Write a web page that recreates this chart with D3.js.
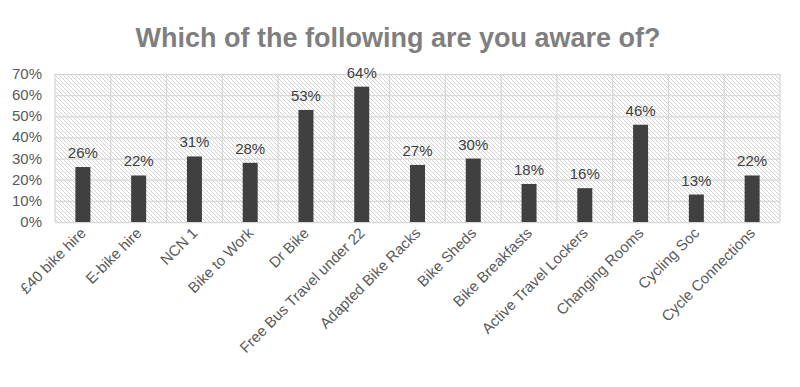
<!DOCTYPE html>
<html>
<head>
<meta charset="utf-8">
<script src="https://cdn.jsdelivr.net/npm/d3@7"></script>
<style>
	body { margin: 0; background: #fff; }
	text { font-family: "Liberation Sans", Arial, sans-serif; }
</style>
</head>
<body>
<div id="chart"></div>
<script>
const categories = ["£40 bike hire", "E-bike hire", "NCN 1", "Bike to Work", "Dr Bike",
	"Free Bus Travel under 22", "Adapted Bike Racks", "Bike Sheds", "Bike Breakfasts",
	"Active Travel Lockers", "Changing Rooms", "Cycling Soc", "Cycle Connections"]
const values = [0.26, 0.22, 0.31, 0.28, 0.53, 0.64, 0.27, 0.30, 0.18, 0.16, 0.46, 0.13, 0.22]
const yTicks = [0, 0.1, 0.2, 0.3, 0.4, 0.5, 0.6, 0.7]
const title = "Which of the following are you aware of?"

const width = 800
const height = 387
const plot = {left: 55, right: 780, top: 74, bottom: 222}

const svg = d3.select("#chart").append("svg")
	.attr("width", width)
	.attr("height", height)

// hatched plot background
const defs = svg.append("defs")
defs.append("pattern")
	.attr("id", "hatch")
	.attr("patternUnits", "userSpaceOnUse")
	.attr("width", 4)
	.attr("height", 4)
	.append("path")
	.attr("d", "M-1,-1 L5,5 M-1,3 L1,5 M3,-1 L5,1")
	.attr("stroke", "#d2d2d2")
	.attr("stroke-width", 1)

svg.append("text")
	.attr("x", width / 2 - 2)
	.attr("y", 47)
	.attr("text-anchor", "middle")
	.attr("fill", "#7f7f7f")
	.style("font-size", "27px")
	.style("font-weight", "bold")
	.text(title)

const x = d3.scaleBand()
	.domain(categories)
	.range([plot.left, plot.right])
	.paddingInner(0)
	.paddingOuter(0)

const y = d3.scaleLinear()
	.domain([0, 0.7])
	.range([plot.bottom, plot.top])

svg.append("rect")
	.attr("x", plot.left)
	.attr("y", plot.top)
	.attr("width", plot.right - plot.left)
	.attr("height", plot.bottom - plot.top)
	.attr("fill", "url(#hatch)")

// horizontal gridlines
const yGrid = d3.axisLeft(y)
	.tickValues(yTicks)
	.tickFormat("")
	.tickSize(-(plot.right - plot.left))
const gy = svg.append("g")
	.attr("transform", "translate(" + plot.left + ",0)")
	.call(yGrid)
gy.select(".domain").remove()
gy.selectAll(".tick line").attr("stroke", "#d9d9d9").attr("stroke-width", 1.3)

// vertical gridlines at category boundaries
const bounds = categories.map(c => x(c)).concat([plot.right])
svg.append("g")
	.selectAll("line")
	.data(bounds)
	.enter()
	.append("line")
	.attr("x1", d => d)
	.attr("x2", d => d)
	.attr("y1", plot.top)
	.attr("y2", plot.bottom)
	.attr("stroke", "#d9d9d9")
	.attr("stroke-width", 1.3)

// y tick labels
svg.append("g")
	.selectAll("text")
	.data(yTicks)
	.enter()
	.append("text")
	.attr("x", 42)
	.attr("y", d => y(d) + 5)
	.attr("text-anchor", "end")
	.attr("fill", "#595959")
	.style("font-size", "15px")
	.text(d => d3.format(".0%")(d))

const barW = 15

svg.append("g")
	.selectAll("rect")
	.data(values)
	.enter()
	.append("rect")
	.attr("x", (d, i) => x(categories[i]) + x.bandwidth() / 2 - barW / 2)
	.attr("y", d => y(d))
	.attr("width", barW)
	.attr("height", d => y(0) - y(d))
	.attr("fill", "#404040")

svg.append("g")
	.selectAll("text")
	.data(values)
	.enter()
	.append("text")
	.attr("x", (d, i) => x(categories[i]) + x.bandwidth() / 2)
	.attr("y", d => y(d) - 9)
	.attr("text-anchor", "middle")
	.attr("fill", "#404040")
	.style("font-size", "15px")
	.text(d => d3.format(".0%")(d))

// rotated category labels
svg.append("g")
	.selectAll("text")
	.data(categories)
	.enter()
	.append("text")
	.attr("text-anchor", "end")
	.attr("fill", "#595959")
	.style("font-size", "15px")
	.attr("transform", d => "translate(" + (x(d) + x.bandwidth() / 2 + 4) + "," + (plot.bottom + 12) + ") rotate(-45)")
	.text(d => d)
</script>
</body>
</html>
